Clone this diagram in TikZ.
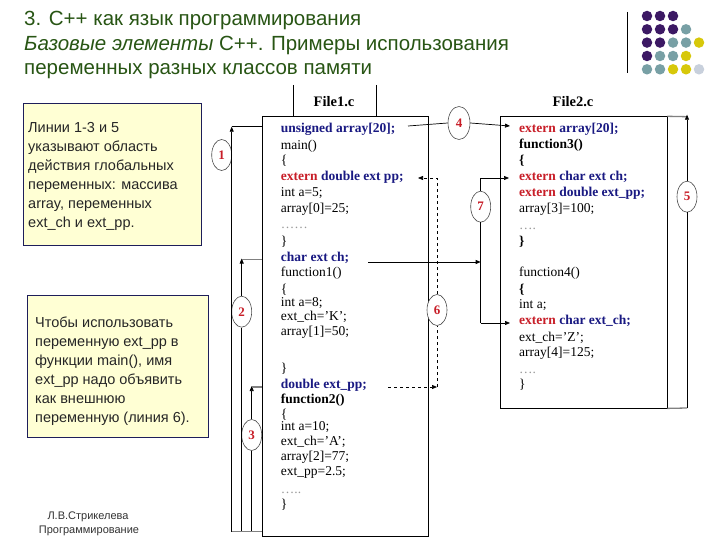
\documentclass[tikz,border=0pt]{standalone}
\usepackage{fontspec}
\setmainfont{Liberation Serif}
\newfontfamily\arialf{Liberation Sans}
\usetikzlibrary{shapes.geometric,arrows.meta}

\definecolor{ttl}{RGB}{40,85,20}
\definecolor{kw}{RGB}{200,30,40}
\definecolor{nv}{RGB}{25,25,130}
\definecolor{dpur}{RGB}{60,25,100}
\definecolor{dteal}{RGB}{120,160,165}
\definecolor{dyel}{RGB}{215,200,10}
\definecolor{dlt}{RGB}{200,208,220}
\definecolor{notefill}{RGB}{255,255,212}
\definecolor{noteline}{RGB}{30,30,90}

\newcommand{\kwx}[1]{\textcolor{kw}{\textbf{#1}}}
\newcommand{\nvx}[1]{\textcolor{nv}{\textbf{#1}}}

\tikzset{
 code/.style={anchor=west, inner sep=0pt, font=\fontsize{13.5}{15}\selectfont, text height=9pt, text depth=3pt},
 num/.style={ellipse, draw=black!70, fill=white, line width=0.6pt, minimum width=20pt, minimum height=31pt, inner sep=0pt, font=\fontsize{13}{15}\selectfont\bfseries, text=kw},
 arr/.style={-{Triangle[length=5pt,width=4pt]}},
 conn/.style={line width=0.7pt},
 grayconn/.style={line width=1.3pt, draw=black!50},
 note/.style={draw=noteline, fill=notefill, line width=0.8pt, inner sep=0pt},
 notetext/.style={anchor=base west, inner sep=0pt, text=black!85, font=\arialf\fontsize{14.5}{19}\selectfont},
 ttltext/.style={anchor=base west, inner sep=0pt, text=ttl, font=\arialf\fontsize{20.5}{24}\selectfont},
 foot/.style={anchor=base, inner sep=0pt, text=black!80, font=\arialf\fontsize{11}{14}\selectfont},
 filebox/.style={draw, line width=0.8pt, inner sep=0pt},
 filelabel/.style={inner sep=0pt, font=\fontsize{14.5}{16}\selectfont\bfseries},
 dotc/.style={circle, inner sep=0pt, minimum size=10.5pt},
}

\begin{document}
\begin{tikzpicture}[x=1pt,y=-1pt]
\useasboundingbox[fill=white] (0,0) rectangle (720,540);

% title
\node[ttltext] (t1) at (24,26) {3. С++ как язык программирования};
\node[ttltext] (t2) at (24,50.5) {\textit{Базовые элементы} С++. Примеры использования};
\node[ttltext] (t3) at (24,75) {переменных разных классов памяти};

% decoration
\draw[line width=1pt] (627,12) -- (627,73);
\foreach \c [count=\i] in {dpur,dpur,dpur}{\node[dotc,fill=\c] (da\i) at ({647+13*(\i-1)},16) {};}
\foreach \c [count=\i] in {dpur,dpur,dpur,dteal}{\node[dotc,fill=\c] (db\i) at ({647+13*(\i-1)},29.3) {};}
\foreach \c [count=\i] in {dpur,dpur,dteal,dteal,dyel}{\node[dotc,fill=\c] (dc\i) at ({647+13*(\i-1)},42.6) {};}
\foreach \c [count=\i] in {dpur,dteal,dteal,dyel}{\node[dotc,fill=\c] (dd\i) at ({647+13*(\i-1)},56) {};}
\foreach \c [count=\i] in {dteal,dteal,dyel,dyel,dlt}{\node[dotc,fill=\c] (de\i) at ({647+13*(\i-1)},69.3) {};}

% notes
\node[note, minimum width=178.3pt, minimum height=142.3pt, anchor=north west] (n1) at (22.7,102.7) {};
\foreach \t [count=\i] in {Линии 1-3 и 5,указывают область,действия глобальных,переменных: массива,{array, переменных},ext\_ch и ext\_pp.}
  {\node[notetext] (n1t\i) at (28,{133+19*(\i-1)}) {\t};}
\node[note, minimum width=181pt, minimum height=142pt, anchor=north west] (n2) at (27,295) {};
\foreach \t [count=\i] in {Чтобы использовать,переменную ext\_pp в,{функции main(), имя},ext\_pp надо объявить,как внешнюю,переменную (линия 6).}
  {\node[notetext] (n2t\i) at (35,{327+19*(\i-1)}) {\t};}

\node[foot] (f1) at (88,519) {Л.В.Стрикелева};
\node[foot] (f2) at (89,533) {Программирование};

% file boxes
\node[filebox, minimum width=165.8pt, minimum height=419.3pt] (file1) at (345.6,326.35) {};
\node[filebox, minimum width=167pt, minimum height=291.3pt] (file2) at (583.5,262.35) {};
\node[filelabel] (lab1) at (334,102) {File1.c};
\node[filelabel] (lab2) at (573,102) {File2.c};
\draw[line width=0.8pt] (293,85) -- (293,116.7);
\draw[line width=0.8pt] (376,85) -- (376,116.7);

% File1 code
\node[code] (a0) at (280.7,130) {\nvx{unsigned array[20];}};
\node[code] (a1) at (280.7,146.5) {main()};
\node[code] (a2) at (280.7,162) {\{};
\node[code] (a3) at (280.7,178) {\kwx{extern} \nvx{double ext pp;}};
\node[code] (a4) at (280.7,193.5) {int a=5;};
\node[code] (a5) at (280.7,209) {array[0]=25;};
\node[code] (a6) at (280.7,226) {\textcolor{black!40}{……}};
\node[code] (a7) at (280.7,242.5) {\}};
\node[code] (a8) at (280.7,258) {\nvx{char ext ch;}};
\node[code] (a9) at (280.7,273.5) {function1()};
\node[code] (a10) at (280.7,290) {\{};
\node[code] (a11) at (280.7,303) {int a=8;};
\node[code] (a12) at (280.7,317) {ext\_ch='K';};
\node[code] (a13) at (280.7,332) {array[1]=50;};
\node[code] (a14) at (280.7,369) {\}};
\node[code] (a15) at (280.7,385) {\nvx{double ext\_pp;}};
\node[code] (a16) at (280.7,400) {\textbf{function2()}};
\node[code] (a17) at (280.7,415) {\{};
\node[code] (a18) at (280.7,427) {int a=10;};
\node[code] (a19) at (280.7,442) {ext\_ch='A';};
\node[code] (a20) at (280.7,457) {array[2]=77;};
\node[code] (a21) at (280.7,472) {ext\_pp=2.5;};
\node[code] (a22) at (280.7,490) {\textcolor{black!40}{…..}};
\node[code] (a23) at (280.7,505) {\}};

% File2 code
\node[code] (b0) at (519,130) {\kwx{extern} \nvx{array[20];}};
\node[code] (b1) at (519,145.5) {\textbf{function3()}};
\node[code] (b2) at (519,162) {\textbf{\{}};
\node[code] (b3) at (519,178) {\kwx{extern} \nvx{char ext ch;}};
\node[code] (b4) at (519,193.5) {\kwx{extern} \nvx{double ext\_pp;}};
\node[code] (b5) at (519,210) {array[3]=100;};
\node[code] (b6) at (519,226.5) {\textcolor{black!40}{….}};
\node[code] (b7) at (519,242.5) {\textbf{\}}};
\node[code] (b8) at (519,273.5) {function4()};
\node[code] (b9) at (519,290) {\textbf{\{}};
\node[code] (b10) at (519,305) {int a;};
\node[code] (b11) at (519,321.5) {\kwx{extern} \nvx{char ext\_ch;}};
\node[code] (b12) at (519,338) {ext\_ch='Z';};
\node[code] (b13) at (519,353) {array[4]=125;};
\node[code] (b14) at (519,370) {\textcolor{black!40}{….}};
\node[code] (b15) at (519,385) {\}};

% number ellipses
\node[num] (e1) at (221.7,155) {1};
\node[num] (e2) at (241.7,311.7) {2};
\node[num] (e3) at (251.7,435) {3};
\node[num, minimum width=22pt, minimum height=33pt] (e4) at (459,123) {4};
\node[num] (e5) at (687,196.7) {5};
\node[num] (e6) at (437,310) {6};
\node[num] (e7) at (480.7,206.7) {7};

% coordinates
\coordinate (l1b) at (231.7,531.7);
\coordinate (l1t) at (231.7,126.7);
\coordinate (l2b) at (241.7,531.7);
\coordinate (l2t) at (241.7,259.5);
\coordinate (l3b) at (251.7,531.7);
\coordinate (l3t) at (251.7,387);
\coordinate (l4s) at (408,126);
\coordinate (l4e) at (510,126);
\coordinate (l5b) at (687,408);
\coordinate (l5t) at (687,116.7);
\coordinate (l6s) at (388,387);
\coordinate (l6c) at (437,387);
\coordinate (l6u) at (437,178);
\coordinate (l6e) at (418,178);
\coordinate (l7s) at (368,262);
\coordinate (l7m) at (480.7,262);
\coordinate (l7t) at (480.7,178);
\coordinate (l7b) at (480.7,323);
\coordinate (l7te) at (509,178);
\coordinate (l7be) at (510,323);

% lines 1-3
\draw[conn,arr] (l1b) -- (l1t);
\draw[conn] (l1t) -- (l1t -| file1.west);
\draw[conn] (l2b) -- (e2.south);
\draw[conn,arr] (e2.north) -- ([yshift=1pt]l2t);
\draw[grayconn] (l2t) -- (l2t -| file1.west);
\draw[conn] (l3b) -- (e3.south);
\draw[conn,arr] (e3.north) -- ([yshift=1pt]l3t);
\draw[grayconn] (l3t) -- (l3t -| file1.west);
\draw[grayconn] (l1b) -- (l1b -| file1.west);

% line 4
\draw[conn] (l4s) -- (e4.west);
\draw[conn,arr] (e4.east) -- (l4e);

% line 5
\draw[grayconn] (file2.north east) -- (l5t);
\draw[grayconn] (file2.south east) -- (l5b);
\draw[conn] (l5b) -- (e5.south);
\draw[conn,arr] (e5.north) -- ([yshift=2pt]l5t);

% line 6
\draw[conn,dashed,arr] (l6s) -- (l6c);
\draw[conn,dashed] (l6c) -- (e6.south);
\draw[conn,dashed,arr] (e6.north) -- (l6u) -- (l6e);

% line 7
\draw[conn,arr] (l7s) -- (l7m);
\draw[conn] (e7.north) -- (l7t);
\draw[conn] (e7.south) -- (l7b);
\draw[conn,arr] (l7t) -- (l7te);
\draw[conn,arr] (l7b) -- (l7be);
\end{tikzpicture}
\end{document}
